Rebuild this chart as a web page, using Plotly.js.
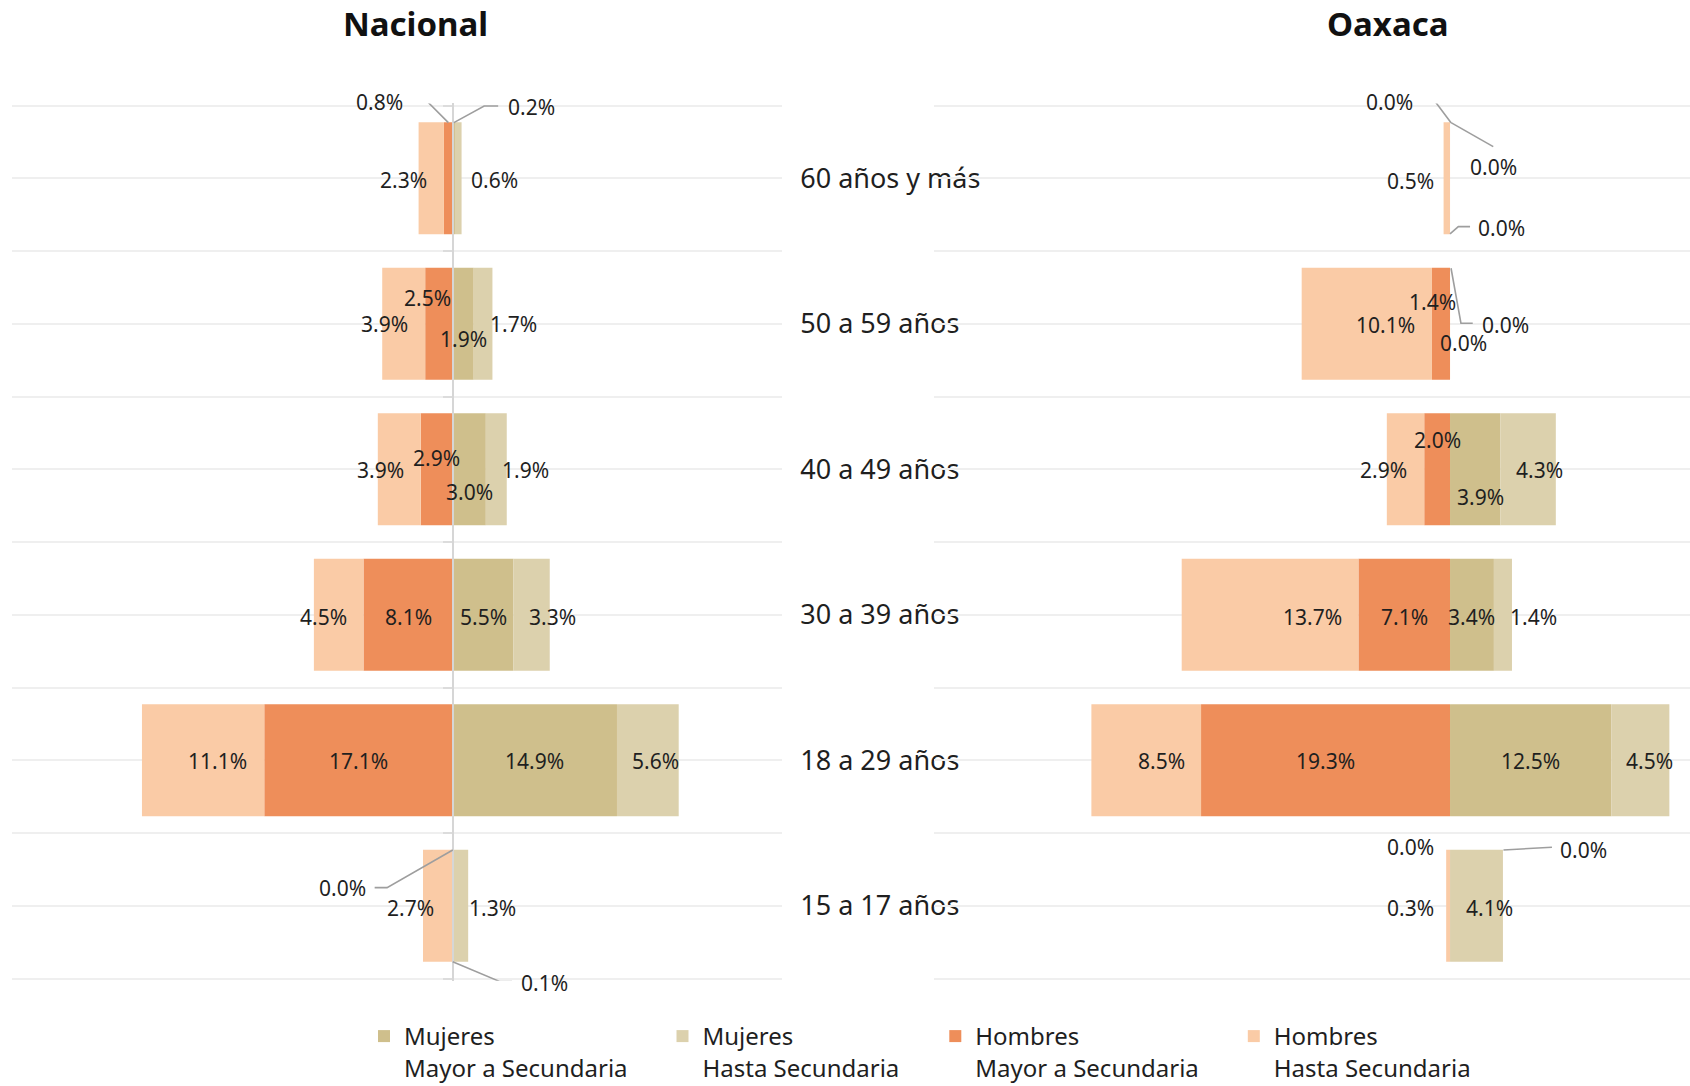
<!DOCTYPE html>
<html><head><meta charset="utf-8">
<script src="https://cdn.plot.ly/plotly-3.0.1.min.js"></script>
<style>html,body{margin:0;padding:0;background:#fff}#chart{width:1690px;height:1086px}</style>
</head><body><div id="chart"></div>
<script>
// ---------- DATA ----------
const categories = ["15 a 17 años", "18 a 29 años", "30 a 39 años", "40 a 49 años", "50 a 59 años", "60 años y más"];
const panelTitles = ["Nacional", "Oaxaca"];
const seriesNames = ["Mujeres<br>Mayor a Secundaria", "Mujeres<br>Hasta Secundaria", "Hombres<br>Mayor a Secundaria", "Hombres<br>Hasta Secundaria"];

const nacionalMujeresMayor = [0.1, 14.9, 5.5, 3.0, 1.9, 0.2];
const nacionalMujeresHasta = [1.3, 5.6, 3.3, 1.9, 1.7, 0.6];
const nacionalHombresMayor = [0.0, 17.1, 8.1, 2.9, 2.5, 0.8];
const nacionalHombresHasta = [2.7, 11.1, 4.5, 3.9, 3.9, 2.3];

const oaxacaMujeresMayor = [0.0, 12.5, 3.4, 3.9, 0.0, 0.0];
const oaxacaMujeresHasta = [4.1, 4.5, 1.4, 4.3, 0.0, 0.0];
const oaxacaHombresMayor = [0.0, 19.3, 7.1, 2.0, 1.4, 0.0];
const oaxacaHombresHasta = [0.3, 8.5, 13.7, 2.9, 10.1, 0.5];

// ---------- STYLE ----------
const colors = { MM: "#CFBF8C", MH: "#DCD1AD", HM: "#EE8E5A", HH: "#FACBA6" };
const FONT = "Noto Sans, Open Sans, sans-serif";
const BAR_W = 0.77;
const W = 1690, H = 1086;
const domL = [11.9 / W, 782.3 / W], rangeL = [-40, 29.9];
const domR = [934 / W, 1], rangeR = [-40, 18.6];
// y: category boundaries sit at 105.6px (top) and 978.6px (bottom); pad the range slightly so edge gridlines draw
const Y_PAD = 0.015;
const catPx = (978.6 - 105.6) / 6;
const domY = [1 - (978.6 + Y_PAD * catPx) / H, 1 - (105.6 - Y_PAD * catPx) / H];
const legendWidths = [253.5, 227.8, 253.5, 230];

// label offsets in screen pixels [dx, dy(down)], relative to segment centre / category centre
const labelOffsets = {
  nacional: {
    HH: [[-27, 2], [14.6, 1], [-15, 2], [-19, 1], [-19, 0], [-27.5, 1.5]],
    HM: [[-110.7, -18.2], [0, 1], [0, 2], [0, -11.7], [-11.6, -25.6], [-69.2, -76.7]],
    MM: [[91.4, 77.4], [0, 1], [0, 2], [0, 22.3], [0.3, 15], [77.3, -71.4]],
    MH: [[31.3, 2], [7.6, 1], [21, 2], [29, 1], [30.7, 0], [36, 1.5]]
  },
  oaxaca: {
    HH: [[-38, 2], [14.8, 1], [42, 2], [-21.7, 1], [18.8, 1], [-36.8, 2.6]],
    HM: [[-40, -58.6], [0, 1], [0, 2], [0, -29.4], [-9, -21.6], [-60.8, -76.7]],
    MM: [[133.7, -55.9], [0, 1], [0, 2], [5, 27.3], [55.9, 1], [43.5, -11.7]],
    MH: [[13, 2], [9.4, 1], [31, 2], [11.8, 1], [13.8, 19.4], [51.6, 49.9]]
  }
};
// leader lines: pixel points relative to segment centre / category centre (dy down)
const leaderLines = {
  nacional: {
    "HM-0": [[0, -55.8], [-65.7, -18.2], [-78.1, -18.2]],
    "MM-0": [[-0.6, 55.8], [46.8, 75.8], [58.7, 75.8]],
    "HM-5": [[0, -55.7], [-22.6, -78.4], [-36.2, -78.4]],
    "MM-5": [[0, -55.7], [30.3, -72.4], [44.3, -72.4]]
  },
  oaxaca: {
    "HM-5": [[1, -55.7], [-16.1, -78.4], [-27.4, -78.4]],
    "MM-5": [[1, -55.7], [43.2, -31.7]],
    "MH-5": [[0, 55.6], [8.3, 48.3], [20, 48.3]],
    "MM-4": [[1, -55.6], [10.9, -0.6], [22.7, -0.6]],
    "MM-0": [[53.4, -55.9], [101.9, -58.6]]
  }
};

// ---------- BUILD ----------
const idx = categories.map((_, i) => i);
const boundaries = categories.map((_, i) => i - 0.5).concat([categories.length - 0.5]);
const yRange = [-0.5 - Y_PAD, categories.length - 0.5 + Y_PAD];

const panels = [
  { key: "nacional", xa: "x", MM: nacionalMujeresMayor, MH: nacionalMujeresHasta, HM: nacionalHombresMayor, HH: nacionalHombresHasta },
  { key: "oaxaca", xa: "x2", MM: oaxacaMujeresMayor, MH: oaxacaMujeresHasta, HM: oaxacaHombresMayor, HH: oaxacaHombresHasta }
];
const order = ["MM", "MH", "HM", "HH"];
const sign = { MM: 1, MH: 1, HM: -1, HH: -1 };

const traces = [];
const annotations = [];
const shapes = [];

panels.forEach((p, pi) => {
  order.forEach((s, si) => {
    traces.push({
      type: "bar", orientation: "h",
      x: p[s].map(v => sign[s] * v), y: idx,
      width: BAR_W,
      xaxis: p.xa, yaxis: "y",
      name: seriesNames[si],
      showlegend: pi === 0,
      legendwidth: legendWidths[si],
      marker: { color: colors[s], line: { width: 0 } },
      hovertemplate: "%{fullData.name}: " + "%{customdata}<extra></extra>",
      customdata: p[s].map(v => v.toFixed(1) + "%")
    });
  });
  idx.forEach(i => {
    const centers = {
      HH: -(p.HM[i] + p.HH[i] / 2),
      HM: -p.HM[i] / 2,
      MM: p.MM[i] / 2,
      MH: p.MM[i] + p.MH[i] / 2
    };
    order.forEach(s => {
      const off = labelOffsets[p.key][s][i];
      annotations.push({
        xref: p.xa, yref: "y", x: centers[s], y: i,
        xshift: off[0], yshift: -off[1],
        text: p[s][i].toFixed(1) + "%",
        showarrow: false, xanchor: "center", yanchor: "middle",
        font: { family: FONT, size: 21, color: "#1f1f1f" }
      });
      const ll = leaderLines[p.key][s + "-" + i];
      if (ll) {
        shapes.push({
          type: "path", xref: p.xa, yref: "y",
          xsizemode: "pixel", ysizemode: "pixel",
          xanchor: centers[s], yanchor: i,
          path: "M" + ll.map(pt => pt[0] + "," + (-pt[1])).join(" L"),
          line: { color: "#9e9e9e", width: 1.6 }
        });
      }
    });
  });
});

// empty trace so the centre axis (zero line with ticks) is drawn
traces.push({ type: "scatter", x: [], y: [], xaxis: "x", yaxis: "y2", showlegend: false, hoverinfo: "skip" });

// panel titles
[415 / W, 1388 / W].forEach((xp, k) => {
  annotations.push({
    xref: "paper", yref: "paper", x: xp, y: 1 - 24 / H,
    text: "<b>" + panelTitles[k] + "</b>", showarrow: false,
    xanchor: "center", yanchor: "middle",
    font: { family: FONT, size: 33, color: "#111" }
  });
});

const zeroPos = domL[0] + (0 - rangeL[0]) / (rangeL[1] - rangeL[0]) * (domL[1] - domL[0]);
const gridColor = "#efefef";

const layout = {
  width: W, height: H, autosize: false,
  margin: { l: 0, r: 0, t: 0, b: 0, autoexpand: false },
  paper_bgcolor: "#fff", plot_bgcolor: "rgba(0,0,0,0)",
  font: { family: FONT, color: "#1f1f1f" },
  barmode: "relative",
  showlegend: true,
  xaxis: { domain: domL, range: rangeL, anchor: "y", showgrid: false, zeroline: false, showline: false, showticklabels: false, ticks: "", fixedrange: true },
  xaxis2: { domain: domR, range: rangeR, anchor: "y", showgrid: false, zeroline: false, showline: false, showticklabels: false, ticks: "", fixedrange: true },
  yaxis: {
    domain: domY, range: yRange, anchor: "x", side: "right",
    tickmode: "array", tickvals: idx, ticktext: categories, ticks: "",
    ticklabelstandoff: 17,
    tickfont: { family: FONT, size: 27, color: "#1f1f1f" },
    showgrid: true, gridcolor: gridColor, gridwidth: 1.6,
    minor: { tickmode: "array", tickvals: boundaries, showgrid: true, gridcolor: gridColor, gridwidth: 1.6, ticks: "" },
    zeroline: false, showline: false, fixedrange: true
  },
  yaxis2: {
    overlaying: "y", anchor: "free", position: zeroPos, side: "left",
    range: yRange,
    showline: true, linecolor: "#d6d6d6", linewidth: 2,
    tickmode: "array", tickvals: boundaries, ticks: "outside", ticklen: 9, tickwidth: 2, tickcolor: "#dcdcdc",
    showticklabels: false, showgrid: false, zeroline: false, layer: "above traces", fixedrange: true
  },
  legend: {
    orientation: "h", x: 364 / W, xanchor: "left", y: 1 - 1014 / H, yanchor: "top",
    font: { family: FONT, size: 24, color: "#1f1f1f" },
    valign: "top", traceorder: "normal", bgcolor: "rgba(0,0,0,0)"
  },
  annotations: annotations,
  shapes: shapes
};

Plotly.newPlot("chart", traces, layout, { displayModeBar: false, responsive: false });
</script>
</body></html>
